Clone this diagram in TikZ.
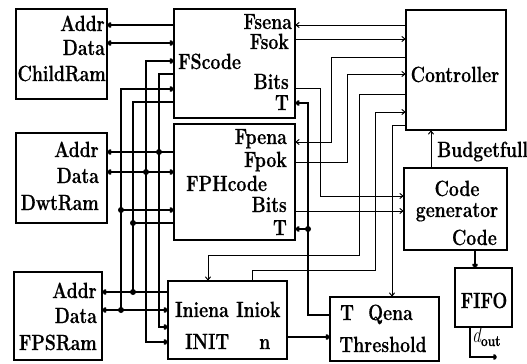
\documentclass[tikz,border=0pt]{standalone}
\usepackage{fontspec}
\setmainfont{Latin Modern Roman}[FakeStretch=0.8, BoldFeatures={FakeBold=0.6}]
\usetikzlibrary{arrows.meta}
\begin{document}
\begin{tikzpicture}[x={(1bp,0)}, y={(0,-1bp)},
  box/.style={draw, line width=1.2bp, inner sep=0pt},
  lbl/.style={inner sep=0pt, font=\fontsize{22bp}{24bp}\selectfont\bfseries},
  tip/.style={-{To[length=4bp,width=6bp]}},
  bus/.style={line width=2.8bp},
  ctl/.style={line width=1bp},
  thk/.style={line width=2.2bp},
  dot/.style={circle, fill, inner sep=0pt, minimum size=6bp}]
\useasboundingbox (0,0) rectangle (527,363);
% boxes
\node[box, minimum width=91bp, minimum height=90bp] (childram) at (61.5,54) {};
\node[box, minimum width=121bp, minimum height=109bp] (fscode) at (234.5,63.5) {};
\node[box, minimum width=100bp, minimum height=120bp] (ctrl) at (456,70) {};
\node[box, minimum width=91bp, minimum height=90bp] (dwtram) at (61.5,178) {};
\node[box, minimum width=121bp, minimum height=116bp] (fphcode) at (234.5,182) {};
\node[box, minimum width=103bp, minimum height=82bp] (codegen) at (455.5,209) {};
\node[box, minimum width=88bp, minimum height=88bp] (fpsram) at (58,316) {};
\node[box, minimum width=119bp, minimum height=78bp] (init) at (227.5,320) {};
\node[box, minimum width=109bp, minimum height=64bp] (thr) at (384.5,329) {};
\node[box, minimum width=57bp, minimum height=59bp] (fifo) at (483.5,297.5) {};
% labels
\node[lbl, anchor=base east] (l1) at (105,31) {Addr};
\node[lbl, anchor=base east] (l2) at (105,55) {Data};
\node[lbl, anchor=base east] (l3) at (106,81) {ChildRam};
\node[lbl, anchor=base east] (l4) at (292,29) {Fsena};
\node[lbl, anchor=base east] (l5) at (289,49) {Fsok};
\node[lbl, anchor=base west] (l6) at (178,69) {FScode};
\node[lbl, anchor=base east] (l7) at (289,89) {Bits};
\node[lbl, anchor=base east] (l8) at (289,110) {T};
\node[lbl, anchor=base] (l9) at (455,82) {Controller};
\node[lbl, anchor=base east] (l10) at (99,157) {Addr};
\node[lbl, anchor=base east] (l11) at (99,183) {Data};
\node[lbl, anchor=base east] (l12) at (99,210) {DwtRam};
\node[lbl, anchor=base east] (l13) at (287,144) {Fpena};
\node[lbl, anchor=base east] (l14) at (287,167) {Fpok};
\node[lbl, anchor=base west] (l15) at (186,191) {FPHcode};
\node[lbl, anchor=base east] (l16) at (287,212) {Bits};
\node[lbl, anchor=base east] (l17) at (287,235) {T};
\node[lbl, anchor=base west] (l18) at (437,157) {Budgetfull};
\node[lbl, anchor=base] (l19) at (457,196) {Code};
\node[lbl, anchor=base] (l20) at (457,217) {generator};
\node[lbl, anchor=base east] (l21) at (497,245) {Code};
\node[lbl, anchor=base east] (l22) at (97,298) {Addr};
\node[lbl, anchor=base east] (l23) at (97,323) {Data};
\node[lbl, anchor=base east] (l24) at (97,350) {FPSRam};
\node[lbl, anchor=base west] (l25) at (175,317) {Iniena};
\node[lbl, anchor=base west] (l26) at (236,317) {Iniok};
\node[lbl, anchor=base west] (l27) at (185,349) {INIT};
\node[lbl, anchor=base west] (l28) at (259,349) {n};
\node[lbl, anchor=base west] (l29) at (340,320) {T};
\node[lbl, anchor=base west] (l30) at (368,320) {Qena};
\node[lbl, anchor=base] (l31) at (383,352) {Threshold};
\node[lbl, anchor=base] (l32) at (484,308) {FIFO};
\node[lbl, anchor=base west] (l33) at (472,342) {{\mdseries\itshape d}\raisebox{-4bp}{\fontsize{15bp}{17bp}\selectfont out}};
% ChildRam
\draw[bus, tip] (fscode.west |- 0,25) -- (childram.east |- 0,25);
\draw[bus, {To[length=4bp,width=6bp]}-{To[length=4bp,width=6bp]}] (childram.east |- 0,43) -- (fscode.west |- 0,43);
% bus x=146 (DwtRam Data)
\draw[bus, {To[length=4bp,width=6bp]}-{To[length=4bp,width=6bp]}] (fscode.west |- 0,61) -| (146,342) -- (init.west |- 0,342);
\draw[bus, {To[length=4bp,width=6bp]}-{To[length=4bp,width=6bp]}] (dwtram.east |- 0,172) -- (fphcode.west |- 0,172);
\node[dot] (d1) at (146,172) {};
% bus x=159 (DwtRam Addr)
\draw[bus, tip] (fscode.west |- 0,74) -| (159,327) -- (init.west |- 0,327);
\draw[bus, tip] (fphcode.west |- 0,152) -- (dwtram.east |- 0,152);
\node[dot] (d2) at (159,152) {};
% bus x=121 (FPSRam Data)
\draw[bus, {To[length=4bp,width=6bp]}-] (fscode.west |- 0,89) -| (121,310);
\draw[bus, tip] (121,210) -- (fphcode.west |- 0,210);
\node[dot] (d3) at (121,210) {};
\draw[bus, {To[length=4bp,width=6bp]}-{To[length=4bp,width=6bp]}] (fpsram.east |- 0,310) -- (init.west |- 0,310);
\node[dot] (d4) at (121,310) {};
% bus x=133 (FPSRam Addr)
\draw[bus] (fscode.west |- 0,102) -| (133,292);
\draw[bus] (fphcode.west |- 0,223) -- (133,223);
\node[dot] (d5) at (133,223) {};
\draw[bus, tip] (init.west |- 0,292) -- (fpsram.east |- 0,292);
\node[dot] (d6) at (133,292) {};
% controller lines
\draw[ctl, tip] (ctrl.west |- 0,25) -- (fscode.east |- 0,25);
\draw[ctl, tip] (fscode.east |- 0,39) -- (ctrl.west |- 0,39);
\draw[ctl, tip] (ctrl.west |- 0,57) -| (331,142) -- (fphcode.east |- 0,142);
\draw[ctl, tip] (fphcode.east |- 0,162) -| (347,74) -- (ctrl.west |- 0,74);
\draw[ctl, tip] (ctrl.west |- 0,94) -| (359,255) -| (init.north -| 208,0);
\draw[ctl, tip] (init.north -| 252,0) |- (375,270) |- (ctrl.west |- 0,112);
\draw[ctl, tip] (ctrl.west |- 0,125) -| (thr.north -| 392,0);
% bits
\draw[ctl, tip] (fscode.east |- 0,88) -| (320,196) -- (codegen.west |- 0,196);
\draw[ctl, tip] (fphcode.east |- 0,211) -- (codegen.west |- 0,211);
% T
\draw[thk, tip] (thr.west |- 0,315) -| (308,103) -- (fscode.east |- 0,103);
\draw[thk, tip] (308,229) -- (fphcode.east |- 0,229);
\node[dot] (d7) at (308,229) {};
% others
\draw[ctl, tip] (codegen.north -| 431,0) -- (ctrl.south -| 431,0);
\draw[bus, tip] (codegen.south -| 475,0) -- (fifo.north -| 475,0);
\draw[bus, tip] (init.east |- 0,337) -- (thr.west |- 0,337);
\coordinate (dout) at (497,357);
\draw[thk, tip] (fifo.south -| 470,0) |- (dout);
\end{tikzpicture}
\end{document}
